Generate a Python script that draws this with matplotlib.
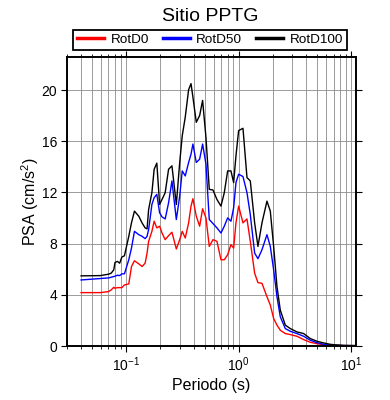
import matplotlib
matplotlib.use("Agg")
import matplotlib.pyplot as plt
from matplotlib.ticker import LogLocator, MultipleLocator, NullFormatter

plt.rcParams["font.family"] = ["Liberation Sans", "DejaVu Sans"]
plt.rcParams["mathtext.fontset"] = "custom"
plt.rcParams["mathtext.rm"] = "Liberation Sans"
plt.rcParams["mathtext.it"] = "Liberation Sans:italic"

# periods (s), shared by the three spectra
periodo = [
    0.040, 0.059, 0.070, 0.074, 0.078, 0.080, 0.084, 0.088, 0.092, 0.097,
    0.106, 0.112, 0.119, 0.130, 0.139, 0.148, 0.154, 0.159, 0.170, 0.178,
    0.188, 0.199, 0.209, 0.223, 0.239, 0.256, 0.280, 0.300, 0.316, 0.336,
    0.360, 0.378, 0.393, 0.421, 0.451, 0.479, 0.513, 0.549, 0.592, 0.642,
    0.697, 0.746, 0.799, 0.855, 0.903, 0.947, 1.000, 1.093, 1.186, 1.269,
    1.387, 1.484, 1.611, 1.784, 1.910, 2.045, 2.189, 2.343, 2.596, 2.875,
    3.295, 3.776, 4.326, 4.958, 5.681, 6.510, 7.461, 8.551, 10.85,
]

rotd0 = [
    4.17, 4.17, 4.25, 4.38, 4.59, 4.51, 4.56, 4.56, 4.56, 4.77,
    4.85, 6.21, 6.66, 6.42, 6.21, 6.47, 7.26, 8.18, 8.96, 9.75,
    9.23, 9.36, 8.83, 8.31, 8.62, 8.89, 7.58, 8.31, 8.96, 8.44,
    9.62, 10.93, 11.51, 10.14, 9.36, 10.72, 10.01, 7.78, 8.31, 8.18,
    6.74, 6.74, 7.13, 7.92, 7.65, 9.62, 10.93, 9.62, 9.93, 8.18,
    5.69, 4.95, 4.90, 3.85, 3.20, 2.15, 1.63, 1.23, 0.97, 0.89,
    0.76, 0.50, 0.29, 0.18, 0.10, 0.05, 0.05, 0.03, 0.03,
]

rotd50 = [
    5.16, 5.27, 5.32, 5.37, 5.43, 5.45, 5.53, 5.50, 5.64, 5.64,
    6.74, 7.65, 8.96, 8.70, 8.57, 8.39, 8.57, 9.10, 11.06, 11.59,
    11.85, 10.41, 10.09, 9.93, 11.19, 12.90, 9.88, 11.72, 13.68, 13.29,
    14.34, 14.99, 15.78, 14.34, 14.60, 15.78, 14.21, 9.88, 9.57, 9.23,
    8.83, 9.36, 10.01, 9.75, 10.80, 12.77, 13.42, 13.24, 11.98, 10.27,
    7.26, 6.82, 7.52, 8.70, 7.78, 5.95, 3.85, 2.28, 1.36, 1.15,
    0.97, 0.76, 0.45, 0.26, 0.13, 0.08, 0.05, 0.03, 0.03,
]

rotd100 = [
    5.48, 5.50, 5.61, 5.69, 5.95, 6.53, 6.61, 6.47, 6.95, 7.05,
    8.57, 9.62, 10.54, 10.14, 9.62, 9.23, 9.15, 10.67, 11.98, 13.81,
    14.29, 11.06, 11.45, 11.98, 13.81, 14.08, 11.06, 14.34, 16.43, 17.88,
    20.03, 20.50, 19.45, 17.48, 18.01, 19.19, 16.30, 12.24, 12.19, 11.45,
    10.93, 11.98, 13.68, 13.68, 12.77, 14.86, 16.83, 17.01, 13.16, 12.90,
    9.62, 7.78, 9.62, 11.32, 10.54, 7.78, 4.64, 2.80, 1.63, 1.36,
    1.10, 0.97, 0.58, 0.37, 0.24, 0.13, 0.08, 0.05, 0.03,
]

series = [
    ("RotD0", rotd0, "#ff0000"),
    ("RotD50", rotd50, "#0000ff"),
    ("RotD100", rotd100, "#000000"),
]

fig = plt.figure(figsize=(3.9, 4.0), dpi=100)
ax = fig.add_axes([0.1718, 0.135, 0.7410, 0.7215])

for name, vals, color in series:
    ax.plot(periodo, vals, color=color, lw=1.0, label=name)

ax.set_xscale("log")
ax.set_xlim(0.03, 11)
ax.set_ylim(0, 1.1 * max(rotd100))

ax.xaxis.set_major_locator(LogLocator(base=10, numticks=10))
ax.xaxis.set_minor_locator(LogLocator(base=10, subs=range(2, 10), numticks=20))
ax.xaxis.set_minor_formatter(NullFormatter())
ax.yaxis.set_major_locator(MultipleLocator(4))

ax.grid(True, which="both", axis="x", color="#8c8c8c", lw=0.6)
ax.grid(True, which="major", axis="y", color="#8c8c8c", lw=0.6)
ax.set_axisbelow(True)

for side in ax.spines.values():
    side.set_linewidth(1.4)

ax.tick_params(which="major", direction="out", length=4, width=0.8,
               labelsize=10, pad=3, top=True, right=True)
ax.tick_params(which="minor", direction="out", length=2.2, width=0.6,
               top=True, right=True)

ax.set_xlabel("Periodo (s)", fontsize=11.5, labelpad=3)
ax.set_ylabel("PSA (cm/s$^2$)", fontsize=11.5, labelpad=0.5)

fig.text(210 / 390, 1 - 20.7 / 400, "Sitio PPTG", fontsize=14,
         ha="center", va="baseline")

leg = fig.legend(loc="center", bbox_to_anchor=(210 / 390, 0.9), ncol=3,
                 fontsize=9.7, handlelength=2.0, handletextpad=0.5,
                 columnspacing=1.0, borderpad=0.3, fancybox=False,
                 frameon=True, edgecolor="black", framealpha=1)
leg.get_frame().set_linewidth(1.3)
for line in leg.get_lines():
    line.set_linewidth(2.5)

fig.savefig("out.png", dpi=100)
